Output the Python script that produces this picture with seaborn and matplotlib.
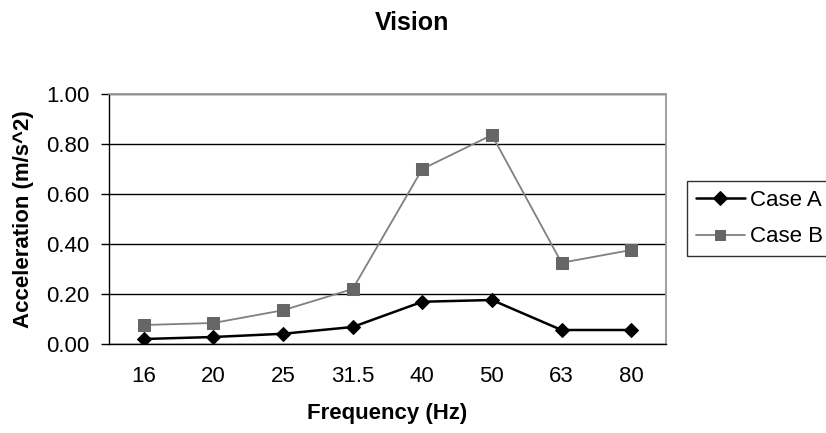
import numpy as np
import pandas as pd
import seaborn as sns
import matplotlib.pyplot as plt
from matplotlib.ticker import FixedLocator

frequencies = ["16", "20", "25", "31.5", "40", "50", "63", "80"]
case_a = [0.020, 0.028, 0.041, 0.068, 0.169, 0.176, 0.056, 0.056]
case_b = [0.076, 0.084, 0.135, 0.220, 0.700, 0.836, 0.325, 0.376]
y_ticks = [0.0, 0.2, 0.4, 0.6, 0.8, 1.0]

df = pd.DataFrame({
    "Frequency": frequencies * 2,
    "Acceleration": case_a + case_b,
    "Case": ["Case A"] * len(case_a) + ["Case B"] * len(case_b),
})

sns.set_style("white")
plt.rcParams['font.family'] = ['Liberation Sans', 'DejaVu Sans']
plt.rcParams['text.color'] = 'black'
plt.rcParams['axes.labelcolor'] = 'black'
plt.rcParams['xtick.color'] = 'black'
plt.rcParams['ytick.color'] = 'black'

fig = plt.figure(figsize=(8.26, 4.33), dpi=100)
ax = fig.add_axes([109 / 826, 89 / 433, 557 / 826, 250 / 433])

sns.lineplot(data=df, x="Frequency", y="Acceleration", hue="Case", style="Case",
             palette={"Case A": "black", "Case B": "#808080"},
             markers={"Case A": "D", "Case B": "s"}, dashes=False,
             sort=False, ax=ax, legend=False)

lines = ax.get_lines()
lines[0].set_linewidth(1.8)
lines[0].set_markersize(7.5)
lines[0].set_markerfacecolor("black")
lines[0].set_markeredgecolor("black")
lines[1].set_linewidth(1.3)
lines[1].set_markersize(9)
lines[1].set_markerfacecolor("#666666")
lines[1].set_markeredgecolor("#666666")

ax.set_xlim(-0.5, len(frequencies) - 0.5)
ax.set_ylim(0, 1.0)
ax.set_yticks(y_ticks)
ax.set_yticklabels([f"{v:.2f}" for v in y_ticks], fontsize=16)
ax.set_xticks(range(len(frequencies)))
ax.set_xticklabels(frequencies, fontsize=16)
ax.xaxis.set_minor_locator(FixedLocator(np.arange(-0.5, len(frequencies), 1.0)))
ax.tick_params(axis="x", which="major", length=0, pad=16)
ax.tick_params(axis="x", which="minor", length=5.5, width=1, color="black", direction="out")
ax.tick_params(axis="y", length=6, width=1, color="black", direction="out", left=True, pad=8)

ax.yaxis.grid(True, color="black", linewidth=1)
ax.xaxis.grid(False)
ax.set_axisbelow(True)

for side in ["left", "bottom"]:
    ax.spines[side].set_color("black")
    ax.spines[side].set_linewidth(1)
for side in ["top", "right"]:
    ax.spines[side].set_color("#999999")
    ax.spines[side].set_linewidth(1.3)

ax.set_xlabel("Frequency (Hz)", fontsize=16, fontweight="bold", labelpad=11)
ax.set_ylabel("Acceleration (m/s^2)", fontsize=16, fontweight="bold", labelpad=9)
fig.suptitle("Vision", x=412 / 826, y=1 - 11 / 433, fontsize=18, fontweight="bold")

leg = ax.legend(lines, ["Case A", "Case B"], loc="upper left",
                bbox_to_anchor=(687 / 826, 1 - 181 / 433), bbox_transform=fig.transFigure,
                frameon=True, fancybox=False, fontsize=16, handlelength=2.2,
                labelspacing=0.7, borderpad=0.4, handletextpad=0.25, borderaxespad=0)
leg.get_frame().set_edgecolor("black")
leg.get_frame().set_linewidth(1)
for h in leg.legend_handles:
    h.set_markersize(7)

fig.savefig("out.png", dpi=100)
